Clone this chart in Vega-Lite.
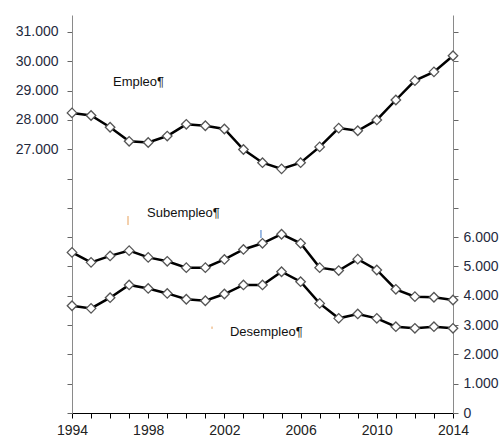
{
  "$schema": "https://vega.github.io/schema/vega-lite/v6.json",
  "width": 381,
  "height": 398,
  "autosize": {"type": "none"},
  "padding": {"left": 72, "top": 15, "right": 51, "bottom": 26},
  "background": "white",
  "config": {
    "view": {"stroke": null},
    "axis": {"grid": false, "labelFont": "Liberation Sans", "labelFontSize": 14, "labelColor": "#1f2a3d", "tickColor": "#666", "domainColor": "#8a8a8a", "title": null, "tickSize": 5, "labelFlush": false},
    "text": {"font": "Liberation Sans"}
  },
  "datasets": {
    "empleo": [
      {"year": 1994, "value": 28240}, {"year": 1995, "value": 28150}, {"year": 1996, "value": 27750},
      {"year": 1997, "value": 27270}, {"year": 1998, "value": 27230}, {"year": 1999, "value": 27450},
      {"year": 2000, "value": 27850}, {"year": 2001, "value": 27800}, {"year": 2002, "value": 27690},
      {"year": 2003, "value": 26990}, {"year": 2004, "value": 26540}, {"year": 2005, "value": 26330},
      {"year": 2006, "value": 26540}, {"year": 2007, "value": 27080}, {"year": 2008, "value": 27720},
      {"year": 2009, "value": 27630}, {"year": 2010, "value": 28000}, {"year": 2011, "value": 28680},
      {"year": 2012, "value": 29340}, {"year": 2013, "value": 29640}, {"year": 2014, "value": 30190}
    ],
    "otros": [
      {"year": 1994, "series": "Subempleo", "value": 5480}, {"year": 1995, "series": "Subempleo", "value": 5140},
      {"year": 1996, "series": "Subempleo", "value": 5360}, {"year": 1997, "series": "Subempleo", "value": 5540},
      {"year": 1998, "series": "Subempleo", "value": 5310}, {"year": 1999, "series": "Subempleo", "value": 5175},
      {"year": 2000, "series": "Subempleo", "value": 4960}, {"year": 2001, "series": "Subempleo", "value": 4960},
      {"year": 2002, "series": "Subempleo", "value": 5240}, {"year": 2003, "series": "Subempleo", "value": 5580},
      {"year": 2004, "series": "Subempleo", "value": 5790}, {"year": 2005, "series": "Subempleo", "value": 6100},
      {"year": 2006, "series": "Subempleo", "value": 5790}, {"year": 2007, "series": "Subempleo", "value": 4960},
      {"year": 2008, "series": "Subempleo", "value": 4860}, {"year": 2009, "series": "Subempleo", "value": 5250},
      {"year": 2010, "series": "Subempleo", "value": 4880}, {"year": 2011, "series": "Subempleo", "value": 4220},
      {"year": 2012, "series": "Subempleo", "value": 3970}, {"year": 2013, "series": "Subempleo", "value": 3950},
      {"year": 2014, "series": "Subempleo", "value": 3855},
      {"year": 1994, "series": "Desempleo", "value": 3660}, {"year": 1995, "series": "Desempleo", "value": 3570},
      {"year": 1996, "series": "Desempleo", "value": 3935}, {"year": 1997, "series": "Desempleo", "value": 4370},
      {"year": 1998, "series": "Desempleo", "value": 4250}, {"year": 1999, "series": "Desempleo", "value": 4080},
      {"year": 2000, "series": "Desempleo", "value": 3880}, {"year": 2001, "series": "Desempleo", "value": 3830},
      {"year": 2002, "series": "Desempleo", "value": 4060}, {"year": 2003, "series": "Desempleo", "value": 4370},
      {"year": 2004, "series": "Desempleo", "value": 4370}, {"year": 2005, "series": "Desempleo", "value": 4820},
      {"year": 2006, "series": "Desempleo", "value": 4480}, {"year": 2007, "series": "Desempleo", "value": 3740},
      {"year": 2008, "series": "Desempleo", "value": 3230}, {"year": 2009, "series": "Desempleo", "value": 3380},
      {"year": 2010, "series": "Desempleo", "value": 3230}, {"year": 2011, "series": "Desempleo", "value": 2945},
      {"year": 2012, "series": "Desempleo", "value": 2890}, {"year": 2013, "series": "Desempleo", "value": 2945},
      {"year": 2014, "series": "Desempleo", "value": 2890}
    ],
    "labels_left": [
      {"year": 1996.15, "value": 29294, "label": "Empleo¶"}
    ],
    "labels_right": [
      {"year": 1997.94, "value": 6824, "label": "Subempleo¶"},
      {"year": 2002.29, "value": 2764, "label": "Desempleo¶"}
    ],
    "specks": [
      {"year": 1996.94, "value": 6721, "value2": 6414, "c": "#e8a15a"},
      {"year": 2003.92, "value": 6244, "value2": 5971, "c": "#3c78c8"},
      {"year": 2001.35, "value": 2950, "value2": 2870, "c": "#e8a15a"}
    ]
  },
  "encoding": {
    "x": {
      "field": "year", "type": "quantitative",
      "scale": {"domain": [1994, 2014], "nice": false, "zero": false},
      "axis": {
        "orient": "bottom",
        "values": [1994,1995,1996,1997,1998,1999,2000,2001,2002,2003,2004,2005,2006,2007,2008,2009,2010,2011,2012,2013,2014],
        "labelExpr": "(datum.value - 1994) % 4 == 0 ? '' + datum.value : ''",
        "labelFlush": false, "labelOverlap": false, "labelBound": false,
        "domainColor": "black", "tickColor": "black", "labelPadding": 5, "labelColor": "#222"
      }
    }
  },
  "layer": [
    {
      "encoding": {
        "y": {
          "field": "value", "type": "quantitative",
          "scale": {"domain": [18000, 31580], "nice": false, "zero": false},
          "axis": {
            "orient": "left",
            "values": [18000,19000,20000,21000,22000,23000,24000,25000,26000,27000,28000,29000,30000,31000],
            "labelExpr": "datum.value >= 27000 ? replace(format(datum.value, ','), ',', '.') : ''",
            "labelPadding": 9
          }
        }
      },
      "layer": [
        {"data": {"name": "empleo"}, "mark": {"type": "line", "color": "black", "strokeWidth": 2.5}},
        {"data": {"name": "empleo"}, "mark": {"type": "point", "shape": "diamond", "filled": true, "fill": "white", "stroke": "#555", "strokeWidth": 1.3, "size": 90, "opacity": 1}},
        {"data": {"name": "labels_left"}, "mark": {"type": "text", "align": "left", "baseline": "middle", "fontSize": 13, "color": "#111"}, "encoding": {"text": {"field": "label"}}}
      ]
    },
    {
      "encoding": {
        "y": {
          "field": "value", "type": "quantitative",
          "scale": {"domain": [0, 13580], "nice": false, "zero": false},
          "axis": {
            "orient": "right",
            "values": [0,1000,2000,3000,4000,5000,6000,7000,8000,9000,10000,11000,12000,13000],
            "labelExpr": "datum.value <= 6000 ? replace(format(datum.value, ','), ',', '.') : ''",
            "labelPadding": 5
          }
        }
      },
      "layer": [
        {"data": {"name": "otros"}, "mark": {"type": "line", "color": "black", "strokeWidth": 2.5}, "encoding": {"detail": {"field": "series"}}},
        {"data": {"name": "otros"}, "mark": {"type": "point", "shape": "diamond", "filled": true, "fill": "white", "stroke": "#555", "strokeWidth": 1.3, "size": 90, "opacity": 1}},
        {"data": {"name": "labels_right"}, "mark": {"type": "text", "align": "left", "baseline": "middle", "fontSize": 13, "color": "#111"}, "encoding": {"text": {"field": "label"}}},
        {"data": {"name": "specks"}, "mark": {"type": "rule", "strokeWidth": 1}, "encoding": {"y2": {"field": "value2"}, "color": {"field": "c", "type": "nominal", "scale": null}}}
      ]
    }
  ],
  "resolve": {"scale": {"y": "independent"}}
}
